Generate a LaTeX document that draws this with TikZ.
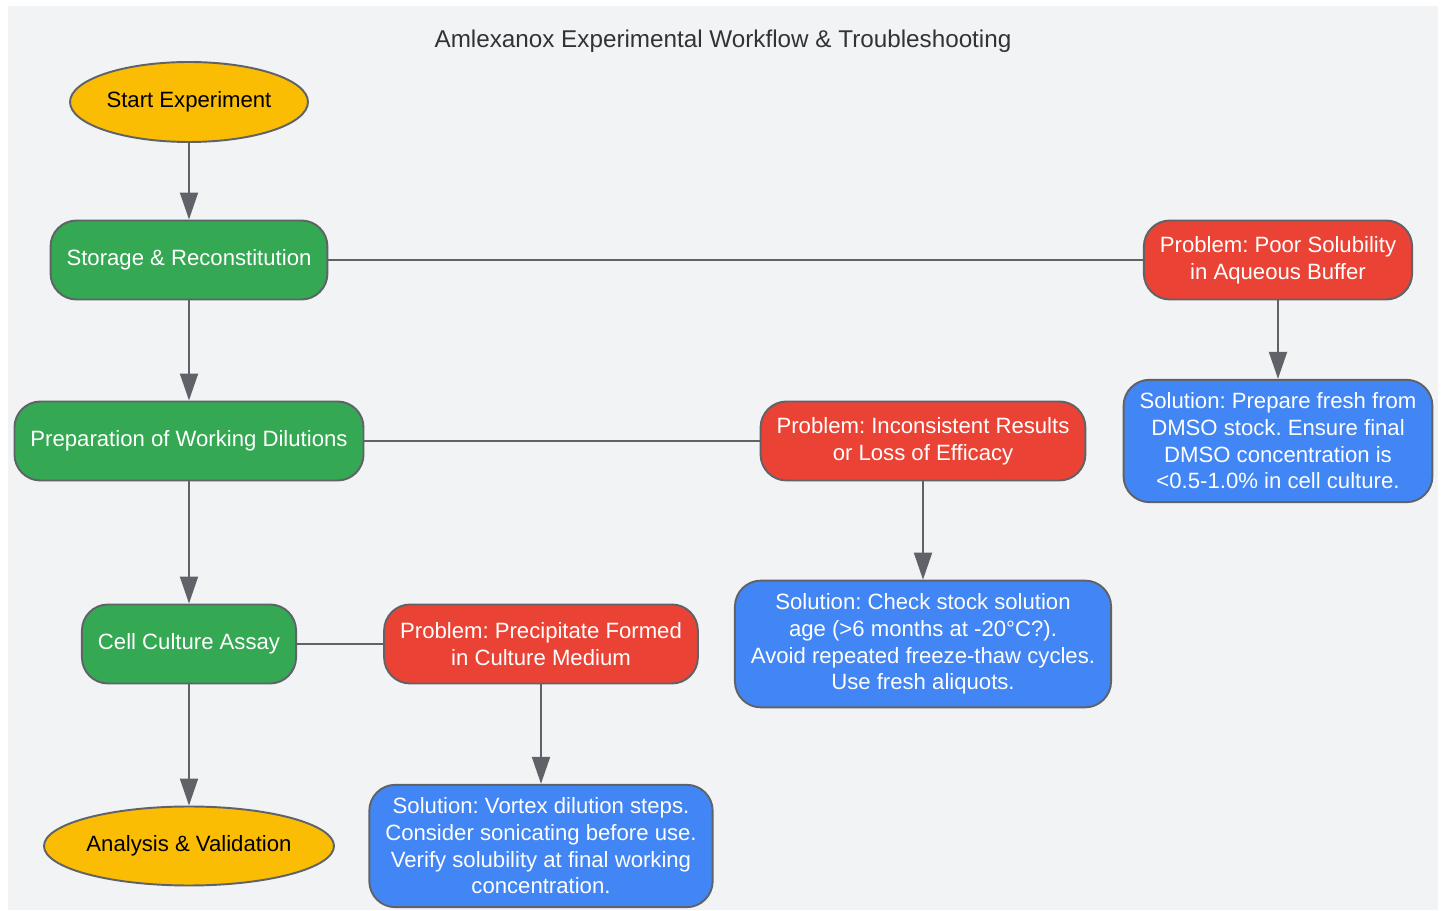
\documentclass[tikz,border=0pt]{standalone}
\usepackage{fontspec}
\setmainfont{Liberation Sans}
\usetikzlibrary{shapes.geometric,arrows.meta}
\definecolor{edgegray}{HTML}{5F6368}
\definecolor{bggray}{HTML}{F1F3F5}
\definecolor{gyellow}{HTML}{FBBC04}
\definecolor{ggreen}{HTML}{34A853}
\definecolor{gred}{HTML}{EA4335}
\definecolor{gblue}{HTML}{4285F4}
\definecolor{titlegray}{HTML}{333333}
\frenchspacing

\begin{document}
\begin{tikzpicture}[x=0.02cm,y=-0.02cm,
  every node/.style={font=\fontsize{12.6}{15.2}\selectfont},
  box/.style={draw=edgegray,line width=1.1pt,rounded corners=0.52cm,align=center,
    inner xsep=0.32cm,inner ysep=0.17cm,minimum height=1.58cm,text=white},
  startstop/.style={ellipse,draw=edgegray,line width=1.1pt,fill=gyellow,inner sep=0pt},
  stepbox/.style={box,fill=ggreen},
  problem/.style={box,fill=gred},
  solution/.style={box,fill=gblue,inner ysep=0.26cm},
  flow/.style={draw=edgegray,line width=1.1pt,-{Triangle[length=0.54cm,width=0.36cm]}},
  link/.style={draw=edgegray,line width=1.1pt}]
\useasboundingbox (0,0) rectangle (1445,911);
\fill[bggray] (8,6) rectangle (1438,910);
\node[text=titlegray,font=\fontsize{13.8}{16}\selectfont] (title) at (723,41) {Amlexanox Experimental Workflow \& Troubleshooting};
% main workflow
\node[startstop,minimum width=4.76cm,minimum height=1.6cm] (start) at (189,102) {Start Experiment};
\node[stepbox] (store) at (189,260) {Storage \& Reconstitution};
\node[stepbox] (prep) at (189,441) {Preparation of Working Dilutions};
\node[stepbox] (cell) at (189,644) {Cell Culture Assay};
\node[startstop,minimum width=5.74cm,minimum height=1.58cm] (anal) at (189,846) {Analysis \& Validation};
% troubleshooting
\node[problem] (prob1) at (1278,260) {Problem: Poor Solubility\\in Aqueous Buffer};
\node[solution] (sol1) at (1278,441) {Solution: Prepare fresh from\\DMSO stock. Ensure final\\DMSO concentration is\\<0.5-1.0\% in cell culture.};
\node[problem] (prob2) at (923,441) {Problem: Inconsistent Results\\or Loss of Efficacy};
\node[solution] (sol2) at (923,644) {Solution: Check stock solution\\age (>6 months at -20°C?).\\Avoid repeated freeze-thaw cycles.\\Use fresh aliquots.};
\node[problem] (prob3) at (541,644) {Problem: Precipitate Formed\\in Culture Medium};
\node[solution] (sol3) at (541,846) {Solution: Vortex dilution steps.\\Consider sonicating before use.\\Verify solubility at final working\\concentration.};
\draw[flow] (start) -- (store);
\draw[flow] (store) -- (prep);
\draw[flow] (prep) -- (cell);
\draw[flow] (cell) -- (anal);
\draw[link] (store) -- (prob1);
\draw[link] (prep) -- (prob2);
\draw[link] (cell) -- (prob3);
\draw[flow] (prob1) -- (sol1);
\draw[flow] (prob2) -- (sol2);
\draw[flow] (prob3) -- (sol3);
\end{tikzpicture}
\end{document}
